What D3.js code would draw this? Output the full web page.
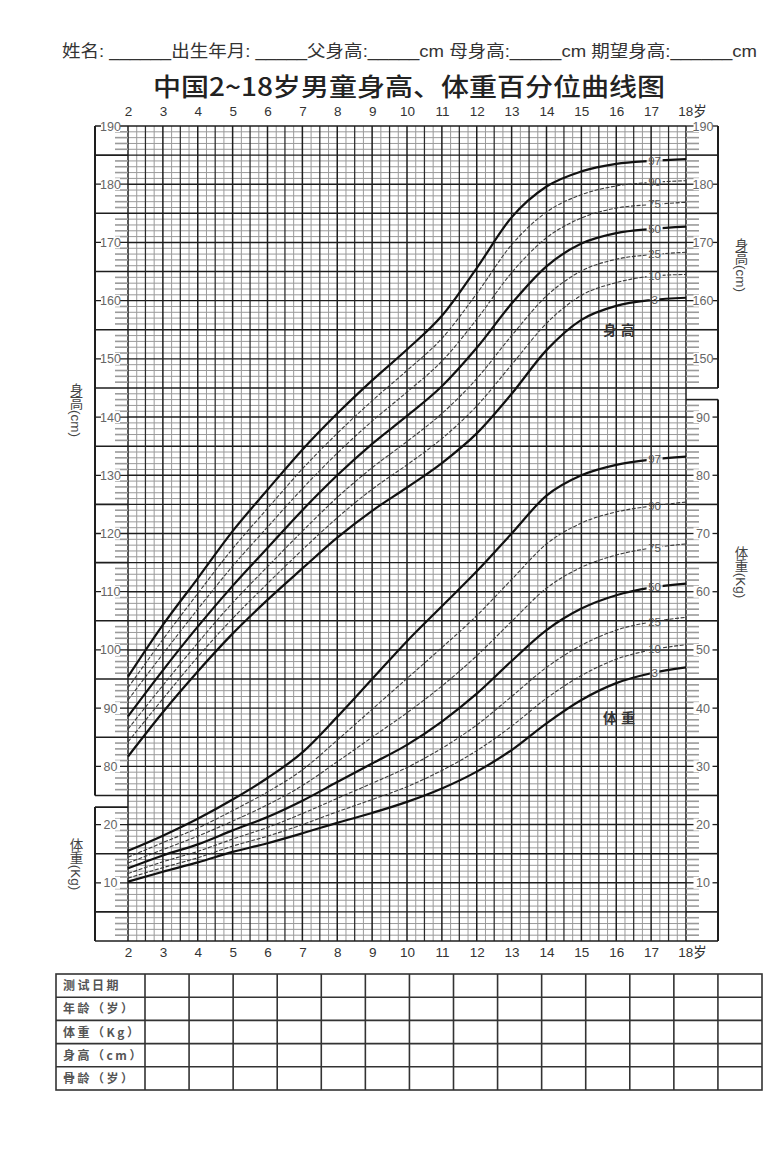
<!DOCTYPE html>
<html><head><meta charset="utf-8">
<script src="https://cdn.jsdelivr.net/npm/d3@7/dist/d3.min.js"></script>
<style>
body{margin:0;background:#fff;}
svg{display:block;font-family:"Liberation Sans","Noto Sans CJK SC",sans-serif;}
</style></head><body>
<svg id="chart" width="777" height="1155"></svg>
<script>
// ---------- data ----------
const ages = [2,3,4,5,6,7,8,9,10,11,12,13,14,15,16,17,18];
const percentileNames = ["3","10","25","50","75","90","97"];
const heightP3  = [81.7,89.3,96.3,102.8,108.6,114.0,119.3,123.9,127.9,132.1,137.2,144.0,151.5,156.7,159.1,160.1,160.5];
const heightP10 = [84.2,91.6,98.8,105.4,111.4,117.2,122.7,127.6,131.8,136.3,141.9,149.0,156.1,160.9,163.1,164.2,164.5];
const heightP25 = [86.4,93.9,101.2,108.1,114.3,120.4,126.2,131.3,135.8,140.6,146.6,154.0,160.8,165.1,167.1,167.9,168.3];
const heightP50 = [88.6,96.5,104.0,111.0,117.5,124.0,130.0,135.4,140.2,145.3,151.9,159.5,165.9,169.8,171.6,172.3,172.7];
const heightP75 = [91.4,99.3,107.0,114.4,121.1,127.7,133.8,139.3,144.3,149.6,156.8,164.8,170.8,174.2,175.9,176.5,176.9];
const heightP90 = [93.5,101.8,109.7,117.4,124.3,131.1,137.2,142.8,148.0,153.5,161.2,169.6,175.2,178.2,179.7,180.3,180.6];
const heightP97 = [95.4,104.3,112.3,120.4,127.5,134.4,140.6,146.3,151.6,157.4,165.6,174.3,179.6,182.2,183.5,184.0,184.3];

const weightP3  = [10.2,11.9,13.5,15.3,16.8,18.5,20.3,22.0,23.9,26.2,29.1,32.8,37.4,41.4,44.3,46.0,47.0];
const weightP10 = [10.8,12.6,14.3,16.3,18.0,20.0,22.2,24.3,26.5,29.3,32.7,36.9,41.7,45.6,48.4,50.0,50.9];
const weightP25 = [11.6,13.6,15.4,17.5,19.5,21.9,24.5,27.1,29.8,33.1,37.1,42.0,47.0,50.8,53.4,54.8,55.6];
const weightP50 = [12.5,14.7,16.6,19.0,21.3,24.1,27.3,30.5,33.7,37.7,42.5,48.1,53.4,57.1,59.4,60.7,61.4];
const weightP75 = [13.4,15.7,18.0,20.6,23.4,26.7,30.8,35.0,39.2,43.8,49.0,54.9,60.6,64.2,66.3,67.5,68.2];
const weightP90 = [14.4,16.9,19.4,22.4,25.6,29.4,34.5,39.8,45.1,50.4,55.9,62.1,68.2,71.8,73.7,74.7,75.4];
const weightP97 = [15.5,18.1,21.0,24.3,28.0,32.4,38.5,45.0,51.5,57.5,63.5,70.0,76.5,80.0,81.8,82.7,83.2];

const ageTicks = [2,3,4,5,6,7,8,9,10,11,12,13,14,15,16,17,18];
const heightLabelsLeft  = [80,90,100,110,120,130,140,150,160,170,180,190];
const heightLabelsRight = [150,160,170,180,190];
const weightLabelsLeft  = [10,20];
const weightLabelsRight = [10,20,30,40,50,60,70,80,90];
const headerText = "姓名: ______出生年月: _____父身高:_____cm 母身高:_____cm 期望身高:______cm";
const titleText = "中国2~18岁男童身高、体重百分位曲线图";
const tableRowLabels = ["测试日期","年龄（岁）","体重（Kg）","身高（cm）","骨龄（岁）"];
const tableDataColumns = 14;

// ---------- setup ----------
const svg = d3.select("#chart");
const X0 = 128, X1 = 686, YT = 126, YB = 941;
const x = d3.scaleLinear().domain([2,18]).range([X0,X1]);
const yW = d3.scaleLinear().domain([0,140]).range([YB,YT]);
const yH = d3.scaleLinear().domain([50,190]).range([YB,YT]);
const DARK = "#1e1e1e", GRID = "#9a9a9a";

// header + title
svg.append("text").attr("x",62).attr("y",57).attr("font-size",16.5).attr("fill","#333")
  .attr("textLength",695).attr("lengthAdjust","spacingAndGlyphs").text(headerText);
svg.append("text").attr("x",153).attr("y",96).attr("font-size",25).attr("fill","#222")
  .attr("font-family","'Noto Sans CJK SC',sans-serif").attr("font-weight",500)
  .attr("textLength",512).attr("lengthAdjust","spacingAndGlyphs").text(titleText);

// ---------- grid ----------
const grid = svg.append("g");
const hVals = d3.range(0,141);
grid.selectAll("line.h").data(hVals.filter(v=>v%5!==0)).join("line")
  .attr("x1",X0).attr("x2",X1).attr("y1",d=>yW(d)).attr("y2",d=>yW(d))
  .attr("stroke",GRID).attr("stroke-width",1);
const vVals = d3.range(0,65).map(i=>2+i/4);
grid.selectAll("line.vq").data(vVals.filter(a=>(a*2)%1!==0)).join("line")
  .attr("y1",YT).attr("y2",YB).attr("x1",d=>x(d)).attr("x2",d=>x(d))
  .attr("stroke",GRID).attr("stroke-width",1);
grid.selectAll("line.vh").data(vVals.filter(a=>(a*2)%1===0 && a%1!==0)).join("line")
  .attr("y1",YT).attr("y2",YB).attr("x1",d=>x(d)).attr("x2",d=>x(d))
  .attr("stroke","#2a2a2a").attr("stroke-width",1.25);
grid.selectAll("line.hm").data(hVals.filter(v=>v%5===0)).join("line")
  .attr("x1",X0).attr("x2",X1).attr("y1",d=>yW(d)).attr("y2",d=>yW(d))
  .attr("stroke",DARK).attr("stroke-width",1.4);
grid.selectAll("line.vy").data(ageTicks).join("line")
  .attr("y1",YT).attr("y2",YB).attr("x1",d=>x(d)).attr("x2",d=>x(d))
  .attr("stroke",DARK).attr("stroke-width",1.5);

// ---------- side axes ----------
function sideSection(side, scale, from, to, labels){
  const g = svg.append("g");
  const bx = side==="left" ? 95 : 718;
  const gx = side==="left" ? X0 : X1;
  const dir = side==="left" ? -1 : 1;
  g.append("line").attr("x1",bx).attr("x2",bx).attr("y1",scale(from)).attr("y2",scale(to))
    .attr("stroke",DARK).attr("stroke-width",2);
  const vals = d3.range(Math.ceil(from), Math.floor(to)+1);
  vals.forEach(v=>{
    const yy = scale(v);
    if (labels.includes(v) || v%5===0 || v===from || v===to){
      g.append("line").attr("x1",bx).attr("x2",gx).attr("y1",yy).attr("y2",yy)
        .attr("stroke",DARK).attr("stroke-width",labels.includes(v)?1.3:1.6);
    } else {
      g.append("line").attr("x1",gx).attr("x2",gx+dir*13).attr("y1",yy).attr("y2",yy)
        .attr("stroke",GRID).attr("stroke-width",1.6);
    }
  });
  const lx = side==="left" ? 110.5 : 703;
  labels.forEach(v=>{
    g.append("rect").attr("x",lx-9.5).attr("y",scale(v)-6).attr("width",19).attr("height",12).attr("fill","#fff");
    g.append("text").attr("x",lx).attr("y",scale(v)+4.5).attr("text-anchor","middle")
      .attr("font-size",12.5).attr("fill","#666").text(v);
  });
}
sideSection("left", yH, 75, 190, heightLabelsLeft);
sideSection("left", yW, 0, 23, weightLabelsLeft);
sideSection("right", yH, 145, 190, heightLabelsRight);
sideSection("right", yW, 0, 93, weightLabelsRight);

// vertical axis titles
function vTitle(tx, ty, t){
  svg.append("text").attr("x",tx).attr("y",ty).attr("text-anchor","middle")
    .style("writing-mode","vertical-rl").attr("font-size",13.5).attr("fill","#444").text(t);
}
vTitle(75, 410, "身高(cm)");
vTitle(75, 864, "体重(Kg)");
vTitle(740, 265, "身高(cm)");
vTitle(740, 572, "体重(Kg)");

// age axes
const fmtAge = d => d===18 ? "18岁" : String(d);
const topAxis = d3.axisTop(x).tickValues(ageTicks).tickSize(0).tickPadding(0).tickFormat(fmtAge);
const botAxis = d3.axisBottom(x).tickValues(ageTicks).tickSize(0).tickPadding(0).tickFormat(fmtAge);
const ta = svg.append("g").attr("transform","translate(0,116)").call(topAxis);
const ba = svg.append("g").attr("transform","translate(0,947)").call(botAxis);
[ta,ba].forEach(a=>{
  a.select(".domain").remove();
  a.selectAll("text").attr("font-size",13.5).attr("fill","#333")
    .attr("font-family","'Liberation Sans','Noto Sans CJK SC',sans-serif")
    .attr("dx",d=>d===18?6:0);
});

// ---------- curves ----------
const heightSeries = [heightP3,heightP10,heightP25,heightP50,heightP75,heightP90,heightP97];
const weightSeries = [weightP3,weightP10,weightP25,weightP50,weightP75,weightP90,weightP97];
const labelAge = 17.1;
const defs = svg.append("defs");
const mask = defs.append("mask").attr("id","lblmask").attr("maskUnits","userSpaceOnUse")
  .attr("x",0).attr("y",0).attr("width",777).attr("height",1155);
mask.append("rect").attr("x",0).attr("y",0).attr("width",777).attr("height",1155).attr("fill","#fff");
const curveG = svg.append("g").attr("mask","url(#lblmask)");
const lblG = svg.append("g");
function drawSet(series, scale){
  series.forEach((vals,i)=>{
    const name = percentileNames[i];
    const bold = (name==="3"||name==="50"||name==="97");
    const line = d3.line().x((d,j)=>x(ages[j])).y(d=>scale(d)).curve(d3.curveMonotoneX);
    curveG.append("path").attr("d",line(vals)).attr("fill","none")
      .attr("stroke", bold ? "#111" : "#3a3a3a").attr("stroke-width", bold ? 2.2 : 1.1)
      .attr("stroke-dasharray", bold ? null : "4,1.6");
    const ly = scale(vals[15] + (vals[16]-vals[15])*0.1);
    const w = name.length*6.5 + 3;
    mask.append("rect").attr("x",x(labelAge)-w/2).attr("y",ly-5).attr("width",w).attr("height",10).attr("fill","#000");
    lblG.append("text").attr("x",x(labelAge)).attr("y",ly+4).attr("text-anchor","middle")
      .attr("font-size",11.5).attr("fill","#555").text(name);
  });
}
drawSet(heightSeries, yH);
drawSet(weightSeries, yW);

svg.append("text").attr("x",621).attr("y",335).attr("text-anchor","middle").attr("font-size",14)
  .attr("font-weight","bold").attr("letter-spacing",4).attr("fill","#333").text("身高");
svg.append("text").attr("x",621).attr("y",723).attr("text-anchor","middle").attr("font-size",14)
  .attr("font-weight","bold").attr("letter-spacing",4).attr("fill","#333").text("体重");

// ---------- table ----------
const TX0 = 56, TC1 = 145, TX1 = 762, TY0 = 974, TY1 = 1090;
const colX = d3.scaleLinear().domain([0,tableDataColumns]).range([TC1,TX1]);
const rowY = d3.scaleLinear().domain([0,tableRowLabels.length]).range([TY0,TY1]);
const tg = svg.append("g");
tg.append("rect").attr("x",TX0).attr("y",TY0).attr("width",TX1-TX0).attr("height",TY1-TY0)
  .attr("fill","none").attr("stroke","#333").attr("stroke-width",1.6);
tg.selectAll("line.r").data(d3.range(1,tableRowLabels.length)).join("line")
  .attr("x1",TX0).attr("x2",TX1).attr("y1",d=>rowY(d)).attr("y2",d=>rowY(d))
  .attr("stroke","#333").attr("stroke-width",1.6);
tg.selectAll("line.c").data(d3.range(0,tableDataColumns)).join("line")
  .attr("y1",TY0).attr("y2",TY1).attr("x1",d=>colX(d)).attr("x2",d=>colX(d))
  .attr("stroke","#333").attr("stroke-width",1.6);
tg.selectAll("text").data(tableRowLabels).join("text")
  .attr("x",63).attr("y",(d,i)=>rowY(i+0.5)+4.5).attr("font-size",12).attr("font-weight","bold")
  .attr("fill","#555").attr("letter-spacing",2.5).attr("font-family","'Noto Sans CJK SC',sans-serif").text(d=>d);
</script>
</body></html>
